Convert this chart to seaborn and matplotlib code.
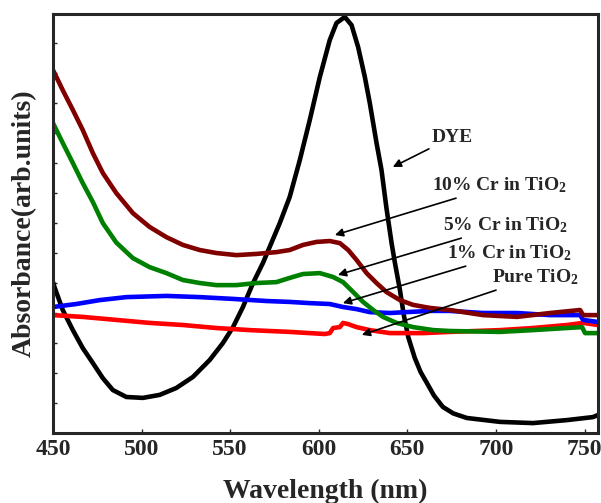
import numpy as np
import pandas as pd
import matplotlib
matplotlib.use("Agg")
import matplotlib.pyplot as plt
import seaborn as sns

# ---- data (arbitrary absorbance units) ----
dye_wl = [450, 450.8, 455.5, 461.2, 466.8, 472.5, 478.1, 483.8, 491.4, 500.7, 510.2,
          519.6, 529.0, 538.4, 545.9, 551.6, 557.2, 562.9, 568.5, 578.0, 583.6,
          589.3, 594.9, 600.6, 606.2, 610.0, 614.7, 618.5, 622.2, 626.0, 628.8,
          632.6, 635.4, 638.2, 641.1, 642.9, 645.8, 648.0, 650.5, 654.2, 657.5,
          661.0, 665.0, 670.0, 676.0, 683.6, 702.3, 720.9, 740.1, 754.8, 757.6]
dye_abs = [5.03, 4.87, 4.1, 3.43, 2.83, 2.33, 1.83, 1.43, 1.2, 1.17, 1.27,
           1.5, 1.87, 2.43, 3.0, 3.53, 4.2, 5.0, 5.67, 7.0, 7.87,
           9.1, 10.43, 11.87, 13.1, 13.67, 13.87, 13.6, 12.87, 11.87, 11.0,
           9.67, 8.77, 7.5, 6.33, 5.7, 4.77, 3.93, 3.2, 2.5, 2.03,
           1.67, 1.25, 0.87, 0.65, 0.5, 0.37, 0.33, 0.43, 0.53, 0.6]

cr10_wl = [450, 455.5, 461.2, 466.8, 472.5, 478.1, 485.7, 495.1, 504.5, 514.0, 523.3,
           532.8, 542.2, 553.5, 564.8, 576.1, 583.6, 591.1, 598.7, 606.2, 611.9,
           616.6, 621.3, 627.0, 632.6, 638.2, 645.8, 653.3, 662.7, 674.0, 692.7,
           711.9, 730.5, 747.5, 749.2, 757.6]
cr10_abs = [12.1, 11.43, 10.77, 10.1, 9.33, 8.67, 8.0, 7.33, 6.87, 6.53, 6.27,
            6.1, 6.0, 5.93, 5.97, 6.03, 6.1, 6.27, 6.37, 6.4, 6.33,
            6.1, 5.77, 5.33, 5.0, 4.7, 4.43, 4.27, 4.17, 4.1, 3.93,
            3.87, 4.0, 4.1, 3.93, 3.93]

cr5_wl = [450, 455.5, 461.2, 466.8, 472.5, 478.1, 485.7, 495.1, 504.5, 514.0, 523.3,
          532.8, 542.2, 553.5, 564.8, 576.1, 583.6, 591.1, 600.6, 608.1, 613.7,
          619.4, 625.0, 630.7, 636.3, 643.9, 653.3, 664.6, 674.0, 702.3, 720.9,
          740.1, 748.6, 750.3, 757.6]
cr5_abs = [10.33, 9.67, 9.0, 8.33, 7.7, 7.0, 6.35, 5.83, 5.53, 5.33, 5.1,
           5.0, 4.93, 4.93, 5.0, 5.03, 5.17, 5.3, 5.33, 5.2, 5.03,
           4.7, 4.37, 4.1, 3.87, 3.67, 3.53, 3.43, 3.4, 3.37, 3.43,
           3.5, 3.53, 3.33, 3.33]

cr1_wl = [450, 463.1, 476.3, 491.4, 514.0, 532.8, 551.6, 570.5, 583.6, 594.9, 606.2,
          613.7, 621.3, 628.8, 640.1, 649.5, 662.7, 674.0, 692.7, 711.9, 730.5,
          747.5, 749.2, 757.6]
cr1_abs = [4.2, 4.3, 4.43, 4.53, 4.57, 4.53, 4.47, 4.4, 4.37, 4.33, 4.3,
           4.2, 4.13, 4.03, 4.0, 4.03, 4.07, 4.07, 4.0, 4.0, 3.93,
           3.93, 3.77, 3.7]

pure_wl = [450, 466.8, 485.7, 504.5, 523.3, 542.2, 561.0, 583.6, 594.9, 603.4, 606.2,
           608.1, 611.9, 613.7, 616.6, 621.3, 628.8, 640.1, 658.9, 674.0, 702.3,
           720.9, 740.1, 749.2, 757.6]
pure_abs = [3.93, 3.87, 3.77, 3.67, 3.6, 3.5, 3.43, 3.37, 3.33, 3.3, 3.33,
            3.5, 3.53, 3.67, 3.63, 3.53, 3.43, 3.33, 3.33, 3.37, 3.43,
            3.5, 3.6, 3.67, 3.6]

series_names = ["DYE", "Pure", "1%", "5%", "10%"]
series_colors = ["#000000", "#ff0000", "#0000ff", "#008000", "#800000"]
x_ticks = [450, 500, 550, 600, 650, 700, 750]

frames = []
for name, wl, ab in [("DYE", dye_wl, dye_abs), ("Pure", pure_wl, pure_abs),
                     ("1%", cr1_wl, cr1_abs), ("5%", cr5_wl, cr5_abs),
                     ("10%", cr10_wl, cr10_abs)]:
    frames.append(pd.DataFrame({"wl": wl, "abs": ab, "sample": name}))
df = pd.concat(frames, ignore_index=True)

sns.set_style("ticks")
plt.rcParams["font.family"] = ["Liberation Serif", "DejaVu Serif"]
plt.rcParams["font.weight"] = "bold"
plt.rcParams["mathtext.fontset"] = "custom"
plt.rcParams["mathtext.rm"] = "Liberation Serif:bold"
plt.rcParams["mathtext.it"] = "Liberation Serif:bold"
plt.rcParams["mathtext.bf"] = "Liberation Serif:bold"

fig = plt.figure(figsize=(6.01, 5.03), dpi=100)
ax = fig.add_axes([0.0882, 0.1392, 0.9068, 0.833])

sns.lineplot(data=df, x="wl", y="abs", hue="sample", hue_order=series_names,
             palette=dict(zip(series_names, series_colors)), sort=False,
             linewidth=3.3, legend=False, ax=ax,
             solid_joinstyle="round", solid_capstyle="round")

ax.set_xlim(450, 757.6)
ax.set_ylim(0, 13.97)
ax.set_xticks(x_ticks)
ax.set_yticks(np.arange(1, 14))
ax.set_yticklabels([])
ax.tick_params(axis="y", direction="in", length=3, width=1, left=True, right=False)
ax.tick_params(axis="x", direction="in", length=3, width=1, labelsize=17, pad=4)
for lab in ax.get_xticklabels():
    lab.set_fontweight("bold")
for sp in ax.spines.values():
    sp.set_linewidth(2.2)
    sp.set_visible(True)

ax.set_xlabel("Wavelength (nm)", fontsize=20, fontweight="bold", labelpad=14)
ax.set_ylabel("Absorbance(arb.units)", fontsize=20, fontweight="bold", labelpad=8)

ap = dict(arrowstyle="-|>", color="black", lw=1.2, mutation_scale=12, shrinkA=0, shrinkB=0)
ann = [
    ("DYE", (641.8, 8.87), (432, 137)),
    ("10% Cr in TiO$_2$", (609.1, 6.6), (432, 185)),
    ("5% Cr in TiO$_2$", (610.8, 5.27), (443, 225)),
    ("1% Cr in TiO$_2$", (613.6, 4.33), (447, 253)),
    ("Pure TiO$_2$", (624.3, 3.27), (492, 277)),
]
for txt, xy, (px, py) in ann:
    tx = 450 + (px - 53.5) / 1.77
    ty = (433 - py) / 30.0
    ax.annotate(txt, xy=xy, xytext=(tx, ty), fontsize=14, fontweight="bold",
                ha="left", va="center", arrowprops=ap)

fig.savefig("out.png", dpi=100)
